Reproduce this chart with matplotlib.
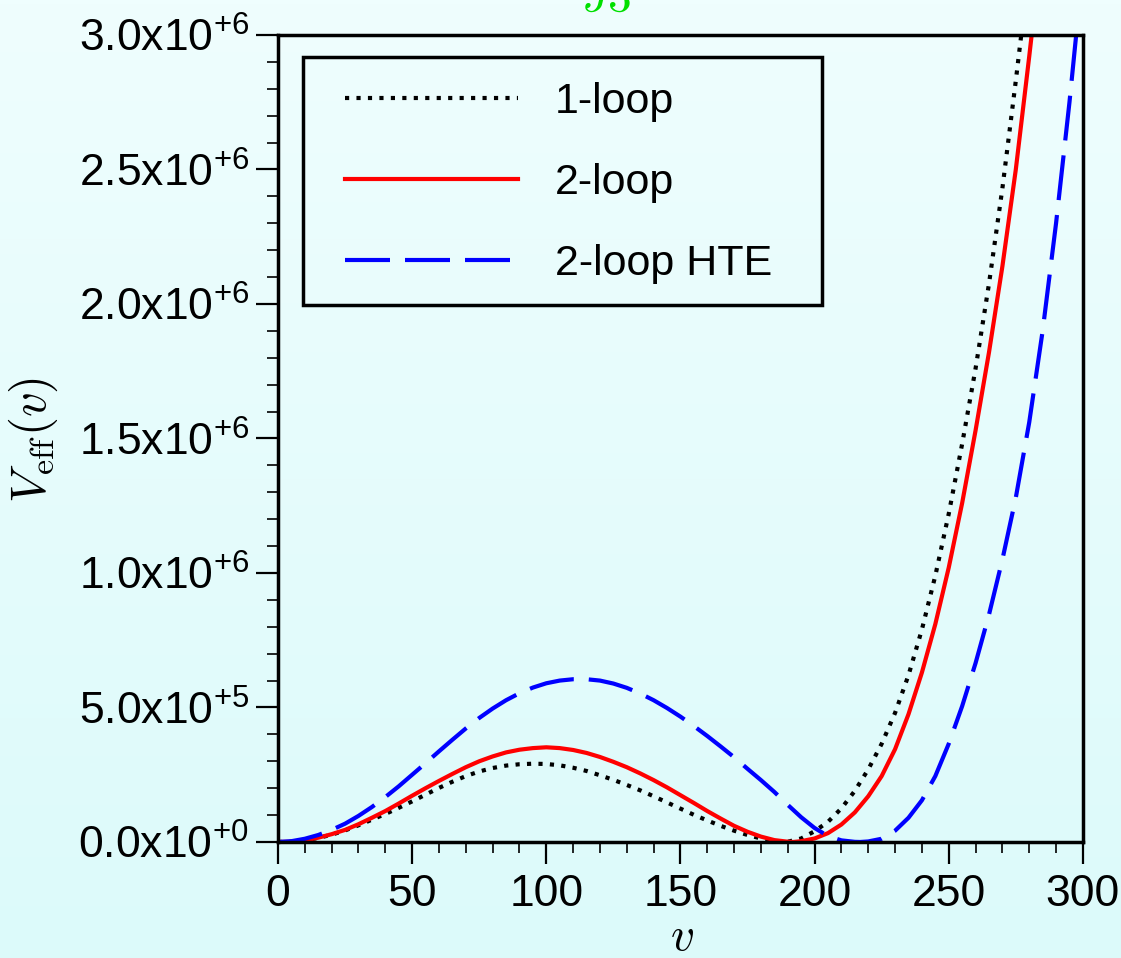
import numpy as np
import matplotlib
matplotlib.use("Agg")
import matplotlib.pyplot as plt
from matplotlib.ticker import MultipleLocator, FuncFormatter
from matplotlib.patches import Rectangle

# ---------------- data (V in units of 1e5) ----------------
v_1loop = [0, 5, 10, 15, 20, 25, 30, 35, 40, 45, 50, 55, 60, 65, 70, 75, 80, 85, 90, 95,
           100, 105, 110, 115, 120, 125, 130, 135, 140, 145, 150, 155, 160, 165, 170, 175,
           180, 185, 188, 190, 195, 200, 205, 210, 215, 220, 225, 230, 235, 240, 245, 250,
           255, 260, 265, 270, 275, 280]
V_1loop = [0, 0.01, 0.06, 0.15, 0.27, 0.43, 0.62, 0.83, 1.04, 1.27, 1.51, 1.76, 2.01, 2.24,
           2.45, 2.62, 2.75, 2.84, 2.89, 2.91, 2.90, 2.85, 2.76, 2.64, 2.48, 2.31, 2.12, 1.92,
           1.70, 1.47, 1.24, 1.01, 0.80, 0.60, 0.42, 0.26, 0.13, 0.04, 0.0, 0.01, 0.13, 0.40,
           0.75, 1.25, 1.90, 2.70, 3.65, 4.80, 6.20, 7.90, 9.90, 12.2, 14.8, 17.6, 20.75, 24.3,
           28.3, 32.5]

v_2loop = [0, 5, 10, 15, 20, 25, 30, 35, 40, 45, 50, 55, 60, 65, 70, 75, 80, 85, 90, 95,
           100, 105, 110, 115, 120, 125, 130, 135, 140, 145, 150, 155, 160, 165, 170, 175,
           180, 185, 190, 192, 195, 200, 205, 210, 215, 220, 225, 230, 235, 240, 245, 250,
           255, 260, 265, 270, 275, 280, 285]
V_2loop = [0, 0.01, 0.06, 0.16, 0.29, 0.45, 0.66, 0.90, 1.15, 1.43, 1.72, 2.00, 2.27, 2.53,
           2.78, 3.00, 3.18, 3.33, 3.43, 3.49, 3.52, 3.49, 3.42, 3.31, 3.16, 2.98, 2.78, 2.55,
           2.30, 2.03, 1.74, 1.45, 1.15, 0.87, 0.60, 0.38, 0.20, 0.07, 0.01, 0.0, 0.03, 0.13,
           0.33, 0.65, 1.10, 1.70, 2.45, 3.45, 4.75, 6.30, 8.10, 10.2, 12.6, 15.3, 18.2, 21.4,
           25.0, 29.2, 33.6]

v_hte = [0, 5, 10, 15, 20, 25, 30, 35, 40, 45, 50, 55, 60, 65, 70, 75, 80, 85, 90, 95,
         100, 105, 110, 115, 120, 125, 130, 135, 140, 145, 150, 155, 160, 165, 170, 175,
         180, 185, 190, 195, 200, 205, 210, 215, 217, 220, 225, 230, 235, 240, 245, 250,
         255, 260, 265, 270, 275, 280, 285, 290, 295, 300]
V_hte = [0, 0.03, 0.12, 0.26, 0.45, 0.68, 0.97, 1.30, 1.67, 2.07, 2.50, 2.93, 3.37, 3.80,
         4.22, 4.61, 4.96, 5.27, 5.53, 5.74, 5.90, 6.00, 6.05, 6.05, 6.00, 5.89, 5.73, 5.52,
         5.27, 4.98, 4.66, 4.31, 3.94, 3.55, 3.15, 2.72, 2.30, 1.86, 1.38, 0.92, 0.52, 0.22,
         0.06, 0.005, 0.0, 0.02, 0.12, 0.42, 0.90, 1.55, 2.45, 3.65, 5.05, 6.65, 8.45, 10.5,
         12.8, 15.6, 19.0, 23.0, 27.5, 32.5]

labels = ["1-loop", "2-loop", "2-loop HTE"]
scale = 1e5

# ---------------- style ----------------
plt.rcParams['font.family'] = ['Liberation Sans', 'DejaVu Sans']
plt.rcParams['mathtext.fontset'] = 'custom'
plt.rcParams['mathtext.rm'] = 'Liberation Sans'
plt.rcParams['mathtext.it'] = 'Liberation Sans:italic'
plt.rcParams['mathtext.bf'] = 'Liberation Sans:bold'

fig = plt.figure(figsize=(11.21, 9.58), dpi=100)

# background gradient
bg = fig.add_axes([0, 0, 1, 1], zorder=0)
top = np.array([239, 254, 254]) / 255.0
bot = np.array([220, 250, 250]) / 255.0
t = np.linspace(0, 1, 256)[:, None]
grad = (top[None, :] * (1 - t) + bot[None, :] * t)[:, None, :]
bg.imshow(grad, aspect='auto', extent=[0, 1, 0, 1], origin='upper')
bg.axis('off')

ax = fig.add_axes([0.248, 0.1211, 0.718, 0.8424], zorder=1)
ax.set_facecolor('none')

lw = 3.0
l1, = ax.plot(v_1loop, np.array(V_1loop) * scale, color='black', lw=lw,
              linestyle=(0, (1, 1.75)), dash_capstyle='butt')
l2, = ax.plot(v_2loop, np.array(V_2loop) * scale, color='#ff0000', lw=lw)
l3, = ax.plot(v_hte, np.array(V_hte) * scale, color='#0000ff', lw=lw,
              linestyle=(0, (10.8, 3.6)), dash_capstyle='butt')

ax.set_xlim(0, 300)
ax.set_ylim(0, 3.0e6)
ax.xaxis.set_major_locator(MultipleLocator(50))
ax.xaxis.set_minor_locator(MultipleLocator(10))
ax.yaxis.set_major_locator(MultipleLocator(5e5))
ax.yaxis.set_minor_locator(MultipleLocator(1e5))


def yfmt(y, pos):
    if y < 1:
        return r"0.0x10$\mathregular{^{+0}}$"
    e = int(np.floor(np.log10(y) + 1e-9))
    m = y / 10 ** e
    return r"%.1fx10$\mathregular{^{+%d}}$" % (m, e)


ax.yaxis.set_major_formatter(FuncFormatter(yfmt))

for s in ax.spines.values():
    s.set_linewidth(2.5)
    s.set_color('black')

ax.tick_params(which='major', direction='out', length=16, width=1.6, labelsize=32,
               top=False, right=False, pad=5)
ax.tick_params(which='minor', direction='out', length=8, width=1.2, top=False, right=False)
ax.tick_params(axis='x', which='major', pad=7)

ax.set_xlabel(r"$v$", fontsize=34, math_fontfamily='cm', va='center')
ax.xaxis.set_label_coords(0.502, -0.119)
ax.set_ylabel(r"$V_{\rm eff}(v)$", fontsize=35, math_fontfamily='cm', va='center')
ax.yaxis.set_label_coords(-0.304, 0.498)

# legend (frame drawn separately)
leg = ax.legend([l1, l2, l3], labels, loc='upper left', bbox_to_anchor=(0.0559, 0.968),
                borderaxespad=0, fontsize=31, handlelength=4.02, handletextpad=0.86,
                labelspacing=0.95, borderpad=0.5, frameon=False)
frame = Rectangle((0.0311, 0.6654), 0.6447, 0.3073, transform=ax.transAxes,
                  fill=False, edgecolor='black', linewidth=2.5, zorder=5)
ax.add_patch(frame)

fig.text(0.518, 1 - 11 / 958, r"$J3$", color='#00e000', fontsize=34,
         math_fontfamily='cm', ha='left', va='baseline')

fig.savefig("out.png", dpi=100)
